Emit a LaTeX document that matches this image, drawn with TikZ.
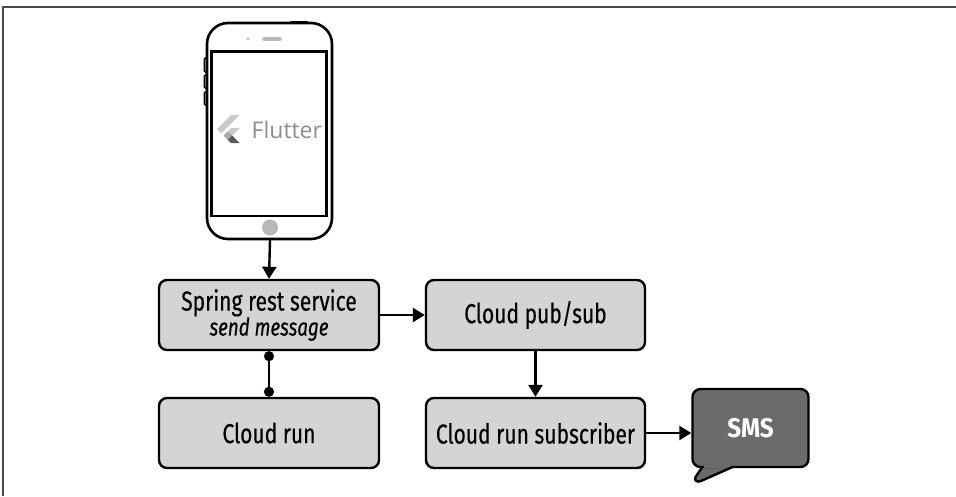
\documentclass[tikz,border=0pt]{standalone}
\usepackage{fontspec}
\setmainfont{Fira Sans}[FakeStretch=0.765, FakeBold=0.3]
\newfontfamily\smsfont{Fira Sans}[FakeStretch=0.9]
\newfontfamily\logofont{Open Sans}
\usetikzlibrary{arrows.meta}
\definecolor{boxgray}{HTML}{D4D4D4}
\definecolor{smsgray}{HTML}{6B6B6B}
\definecolor{framegray}{HTML}{4A4A4A}
\definecolor{phonegray}{HTML}{B8B8B8}
\definecolor{logolight}{HTML}{C9C9C9}
\definecolor{logomid}{HTML}{A9A9A9}
\definecolor{logodark}{HTML}{5A5A5A}
\definecolor{logotext}{HTML}{8E8E8E}
\begin{document}
\begin{tikzpicture}[x=1pt,y=-1pt,
  stagebox/.style={draw=black, line width=2.4pt, fill=boxgray, rounded corners=8pt,
    minimum width=220pt, minimum height=70pt, inner sep=0pt, align=center,
    font=\fontsize{27.5}{26}\selectfont},
  smsbody/.style={draw=black, line width=2.4pt, fill=smsgray, rounded corners=8pt,
    minimum width=116pt, minimum height=78pt, inner sep=0pt, text=white,
    font=\smsfont\fontsize{27}{28}\selectfont\bfseries},
  flow/.style={line width=2.4pt, -{Triangle[length=12pt,width=14pt]}},
  link/.style={line width=2.4pt, {Circle[length=10pt]}-{Circle[length=10pt]}},
  phoneline/.style={line width=2.6pt, draw=black}]
\useasboundingbox (0,0) rectangle (956,496);

% outer frame (top and left edges)
\draw[framegray, line width=2pt] (3,496) -- (3,7) -- (956,7);

% ---- phone ----
% side buttons
\foreach \ya/\yb in {58/72, 75/88, 92/105}
  \draw[line width=1.6pt, rounded corners=1pt, fill=white] (204.5,\ya) rectangle (209,\yb);
% power button
\draw[line width=2pt, line cap=round] (291,22.2) -- (307,22.2);
% body and screen
\draw[phoneline, fill=white, rounded corners=21pt] (207,23) rectangle (332,239);
\draw[phoneline] (211.5,51.7) rectangle (326.5,216);
% speaker, camera, home button
\draw[phonegray, line width=3.5pt, line cap=round] (264,39) -- (280,39);
\fill[phonegray] (248,39) circle (1.6);
\fill[phonegray] (270,227.5) circle (8);
\coordinate (phonebase) at (270,240);

% Flutter logo
\begin{scope}[shift={(215.5,113.4)}, scale=0.155]
  \fill[logolight] (37.7,128.9) -- (9.8,101) -- (100.4,10.4) -- (156.2,10.4) -- cycle;
  \fill[logolight] (156.2,94) -- (100.4,94) -- (79.5,114.9) -- (107.4,142.8) -- cycle;
  \fill[logomid] (51.6,142.8) -- (79.5,114.9) -- (107.4,142.8) -- (79.5,170.7) -- cycle;
  \fill[logodark] (79.5,170.7) -- (100.4,191.6) -- (156.2,191.6) -- (107.4,142.8) -- cycle;
\end{scope}
\node[anchor=base west, inner sep=0pt, text=logotext, font=\logofont\fontsize{23}{26}\selectfont]
  (fluttertext) at (251.5,138.3) {Flutter};

% ---- service boxes ----
\node[stagebox] (spring) at (269,315)
  {Spring rest service\\[-1pt]{\fontsize{24.5}{26}\selectfont\itshape send message}};
\node[stagebox] (run) at (269,433) {Cloud run};
\node[stagebox, minimum width=219pt] (pubsub) at (535.5,315) {Cloud pub/sub};
\node[stagebox, minimum width=219pt] (subscriber) at (535.5,433) {Cloud run subscriber};

% ---- SMS speech bubble ----
\fill[smsgray] (701,462) -- (702,467) -- (695.5,477)
  .. controls (694,480.5) and (697,482.5) .. (700.5,481.2) -- (733,467) -- (734,462) -- cycle;
\node[smsbody] (sms) at (750.5,428) {SMS};
\fill[smsgray] (703.5,464) rectangle (731,468);
\draw[line width=2.4pt, line join=round] (702.5,466.8) -- (695.5,477)
  .. controls (694,480.5) and (697,482.5) .. (700.5,481.2) -- (733,466.8);

% ---- connectors ----
\draw[flow] (phonebase) -- (spring.north);
\draw[flow] (spring.east) -- (pubsub.west);
\draw[link] (spring.south) -- (run.north);
\draw[flow] (pubsub.south) -- (subscriber.north);
\draw[flow] (subscriber.east) -- (subscriber.east -| sms.west);
\end{tikzpicture}
\end{document}
